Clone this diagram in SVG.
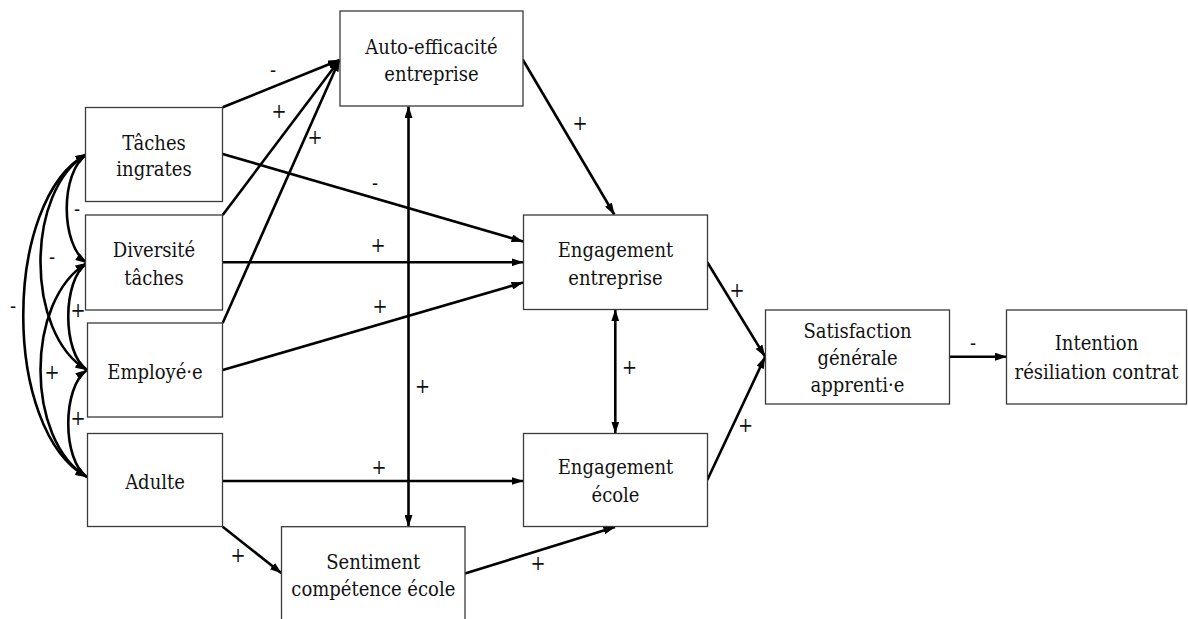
<svg xmlns="http://www.w3.org/2000/svg" width="1188" height="619" viewBox="0 0 1188 619">
<style>
.box{fill:#fff;stroke:#3a3a3a;stroke-width:1.3}
.t{font-family:"DejaVu Serif Condensed","DejaVu Serif",serif;font-stretch:condensed;font-size:20px;fill:#111;text-anchor:middle}
.c{fill:none;stroke:#000;stroke-width:2.6}
.l{font-family:"DejaVu Serif Condensed","DejaVu Serif",serif;font-stretch:condensed;font-size:20px;fill:#111;text-anchor:middle}
</style>
<defs>
<marker id="ah" viewBox="0 0 12 8" refX="11.5" refY="4" markerWidth="12" markerHeight="8" markerUnits="userSpaceOnUse" orient="auto-start-reverse">
<path d="M0,0 L12,4 L0,8 z" fill="#000"/>
</marker>
</defs>
<rect width="1188" height="619" fill="#fff"/>
<g id="connectors">
<path class="c" d="M222.7,107.3 L339.5,60" marker-end="url(#ah)"/>
<path class="c" d="M222.7,215 L339.5,60" marker-end="url(#ah)"/>
<path class="c" d="M222.7,323 L339.5,60" marker-end="url(#ah)"/>
<path class="c" d="M222.7,154 L523,241.5" marker-end="url(#ah)"/>
<path class="c" d="M222.7,262.3 L523,262.3" marker-end="url(#ah)"/>
<path class="c" d="M222.7,370 L523,282.5" marker-end="url(#ah)"/>
<path class="c" d="M408.5,106.5 L408.5,526.5" marker-start="url(#ah)" marker-end="url(#ah)"/>
<path class="c" d="M522.7,59.5 L614.3,214.5" marker-end="url(#ah)"/>
<path class="c" d="M615.3,309.8 L615.3,433" marker-start="url(#ah)" marker-end="url(#ah)"/>
<path class="c" d="M222.7,481 L523,481" marker-end="url(#ah)"/>
<path class="c" d="M222.7,526.7 L281.5,573.3" marker-end="url(#ah)"/>
<path class="c" d="M465,573.5 L615,527" marker-end="url(#ah)"/>
<path class="c" d="M707.3,262.3 L765,356.5" marker-end="url(#ah)"/>
<path class="c" d="M707.3,480 L765,357" marker-end="url(#ah)"/>
<path class="c" d="M949.5,356.7 L1006.5,356.7" marker-end="url(#ah)"/>
<path class="c" d="M87,154 C60,172 60,245 87,263" marker-start="url(#ah)" marker-end="url(#ah)"/>
<path class="c" d="M87,263 C62,280 62,353 87,370" marker-start="url(#ah)" marker-end="url(#ah)"/>
<path class="c" d="M87,370 C62,387 62,460 87,477" marker-start="url(#ah)" marker-end="url(#ah)"/>
<path class="c" d="M87,154 C25,190 25,334 87,370" marker-start="url(#ah)" marker-end="url(#ah)"/>
<path class="c" d="M87,263 C25,300 25,440 87,477" marker-start="url(#ah)" marker-end="url(#ah)"/>
<path class="c" d="M87,154 C2,200 2,431 87,477" marker-start="url(#ah)" marker-end="url(#ah)"/>
<text class="l" x="273" y="76.5">-</text>
<text class="l" x="279" y="118">+</text>
<text class="l" x="315" y="144">+</text>
<text class="l" x="375" y="189.5">-</text>
<text class="l" x="378" y="252">+</text>
<text class="l" x="380" y="312.5">+</text>
<text class="l" x="422.5" y="392.5">+</text>
<text class="l" x="580" y="129.5">+</text>
<text class="l" x="629.5" y="373.5">+</text>
<text class="l" x="379" y="473.5">+</text>
<text class="l" x="238" y="561.5">+</text>
<text class="l" x="538" y="570">+</text>
<text class="l" x="737" y="297">+</text>
<text class="l" x="745.5" y="432">+</text>
<text class="l" x="973" y="350">-</text>
<text class="l" x="77" y="215.5">-</text>
<text class="l" x="52" y="264">-</text>
<text class="l" x="13" y="313">-</text>
<text class="l" x="78" y="316.5">+</text>
<text class="l" x="52" y="378.5">+</text>
<text class="l" x="78" y="424.5">+</text>
</g>
<g id="auto"><rect class="box" x="340" y="11" width="183" height="95"/><text class="t" x="431.5" y="53.5">Auto-efficacité</text><text class="t" x="431.5" y="81">entreprise</text></g>
<g id="taches"><rect class="box" x="85.5" y="107.5" width="137" height="94"/><text class="t" x="154" y="149.5">Tâches</text><text class="t" x="154" y="176">ingrates</text></g>
<g id="diversite"><rect class="box" x="85.5" y="215" width="137" height="95"/><text class="t" x="154" y="257">Diversité</text><text class="t" x="154" y="284.5">tâches</text></g>
<g id="employe"><rect class="box" x="87.5" y="323" width="135" height="94"/><text class="t" x="155" y="378.5">Employé·e</text></g>
<g id="adulte"><rect class="box" x="87.5" y="433.5" width="135" height="93"/><text class="t" x="155" y="488.5">Adulte</text></g>
<g id="engagement-entreprise"><rect class="box" x="523.5" y="215" width="184" height="94.5"/><text class="t" x="615.5" y="257">Engagement</text><text class="t" x="615.5" y="284.5">entreprise</text></g>
<g id="engagement-ecole"><rect class="box" x="523.5" y="433.5" width="184" height="93"/><text class="t" x="615.5" y="474">Engagement</text><text class="t" x="615.5" y="502">école</text></g>
<g id="sentiment"><rect class="box" x="281.5" y="526.7" width="183.5" height="100"/><text class="t" x="373.3" y="568.5">Sentiment</text><text class="t" x="373.3" y="596">compétence école</text></g>
<g id="satisfaction"><rect class="box" x="765.5" y="310" width="184" height="94"/><text class="t" x="857.5" y="337.5">Satisfaction</text><text class="t" x="857.5" y="365">générale</text><text class="t" x="857.5" y="392">apprenti·e</text></g>
<g id="intention"><rect class="box" x="1006.5" y="310" width="180" height="94"/><text class="t" x="1096.5" y="350">Intention</text><text class="t" x="1096.5" y="378.5">résiliation contrat</text></g>
</svg>
